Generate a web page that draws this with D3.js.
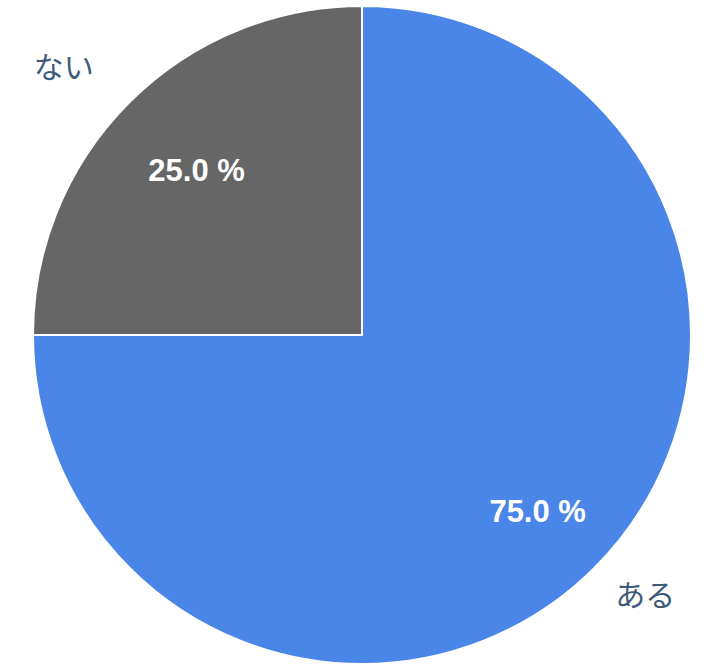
<!DOCTYPE html>
<html>
<head>
<meta charset="utf-8">
<script src="https://cdn.jsdelivr.net/npm/d3@7"></script>
<style>
  html, body { margin: 0; padding: 0; background: #ffffff; }
  svg { display: block; }
</style>
</head>
<body>
<svg id="chart" width="726" height="669"></svg>
<script>
const categories = ["ある", "ない"];
const values = [75.0, 25.0];
const colors = ["#4a86e8", "#666666"];

const width = 726, height = 669;
const cx = 362, cy = 335, radius = 329;

const svg = d3.select("#chart");
const g = svg.append("g").attr("transform", `translate(${cx},${cy})`);

const data = categories.map((c, i) => ({ name: c, value: values[i], color: colors[i] }));
const pie = d3.pie().value(d => d.value).sort(null);
const arcs = pie(data);
const total = d3.sum(values);

const arc = d3.arc().innerRadius(0).outerRadius(radius);

// inner label: radius grows slightly with slice size
function innerPos(d) {
  const frac = d.data.value / total;
  const r = radius * (0.689 + 0.088 * frac);
  const a = (d.startAngle + d.endAngle) / 2;
  return [Math.sin(a) * r, -Math.cos(a) * r];
}
// outer label on a slightly elliptical ring
function outerPos(d) {
  const a = (d.startAngle + d.endAngle) / 2;
  return [Math.sin(a) * radius * 1.25, -Math.cos(a) * radius * 1.135];
}

g.selectAll("path.slice")
  .data(arcs)
  .join("path")
  .attr("class", "slice")
  .attr("d", arc)
  .attr("fill", d => d.data.color)
  .attr("stroke", "#ffffff")
  .attr("stroke-width", 2)
  .attr("stroke-linejoin", "miter");

g.selectAll("text.pct")
  .data(arcs)
  .join("text")
  .attr("class", "pct")
  .attr("transform", d => `translate(${innerPos(d)})`)
  .attr("text-anchor", "middle")
  .attr("dy", "0.36em")
  .attr("font-family", "'Liberation Sans', Arial, Helvetica, sans-serif")
  .attr("font-weight", "bold")
  .attr("font-size", 31)
  .attr("fill", "#ffffff")
  .text(d => (d.data.value / total * 100).toFixed(1) + " %");

g.selectAll("text.cat")
  .data(arcs)
  .join("text")
  .attr("class", "cat")
  .attr("transform", d => `translate(${outerPos(d)})`)
  .attr("text-anchor", "middle")
  .attr("dx", "-0.25em")
  .attr("dy", "0.24em")
  .attr("font-family", "'Noto Sans CJK JP', 'Noto Sans', sans-serif")
  .attr("font-size", 30)
  .attr("fill", "#3d5a78")
  .text(d => d.data.name);
</script>
</body>
</html>
